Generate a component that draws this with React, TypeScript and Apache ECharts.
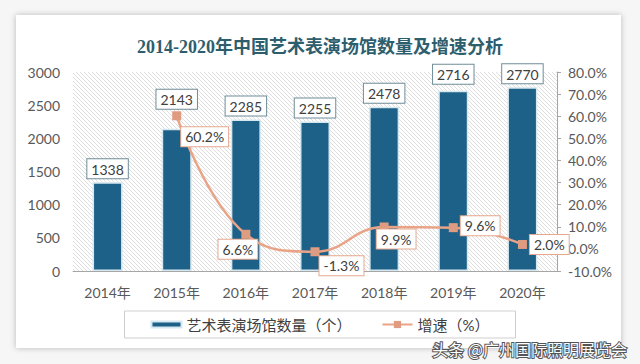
import React, { useEffect, useRef } from "react";
import * as echarts from "echarts";

const categories = ["2014年", "2015年", "2016年", "2017年", "2018年", "2019年", "2020年"];
const venueCounts = [1338, 2143, 2285, 2255, 2478, 2716, 2770];
const growthRates: (number | null)[] = [null, 60.2, 6.6, -1.3, 9.9, 9.6, 2.0];
const leftAxis = { min: 0, max: 3000, interval: 500 };
const rightAxis = { min: -10, max: 80, interval: 10 };
const seriesNames = ["艺术表演场馆数量（个）", "增速（%）"];
const titleText = "2014-2020年中国艺术表演场馆数量及增速分析";
const watermark = "头条 @广州国际照明展览会";

// label placement styles (not data)
const barLabelDistance = [4, 20, 4, 4, 4, 7, 4];
const growthLabelStyle: any[] = [
  null,
  { position: "right", distance: 0, offset: [0, 21] },
  { position: "bottom", distance: 1, offset: [-8, 0] },
  { position: "right", distance: 0, offset: [0, 14] },
  { position: "bottom", distance: -2, offset: [12, 0] },
  { position: "right", distance: 3, offset: [0, -2] },
  { position: "right", distance: 3, offset: [0, 0] },
];

const FONT = 'Lato, "Noto Sans CJK SC", sans-serif';

function makeHatch() {
  const s = 4;
  const c = document.createElement("canvas");
  c.width = s;
  c.height = s;
  const ctx = c.getContext("2d")!;
  ctx.fillStyle = "#ffffff";
  ctx.fillRect(0, 0, s, s);
  ctx.strokeStyle = "#dedede";
  ctx.lineWidth = 1;
  ctx.beginPath();
  ctx.moveTo(-1, -1);
  ctx.lineTo(s + 1, s + 1);
  ctx.moveTo(-1, s - 1);
  ctx.lineTo(1, s + 1);
  ctx.moveTo(s - 1, -1);
  ctx.lineTo(s + 1, 1);
  ctx.stroke();
  return c;
}

export default function App() {
  const ref = useRef<HTMLDivElement>(null);
  useEffect(() => {
    if (!ref.current) return;
    const chart = echarts.init(ref.current, null, { renderer: "svg" });
    const hatch = makeHatch();
    const option: any = {
      animation: false,
      backgroundColor: "transparent",
      title: {
        text: titleText,
        left: "center",
        top: 33,
        textStyle: {
          fontFamily: '"Liberation Serif", "Noto Sans CJK SC", serif',
          fontWeight: "bold",
          fontSize: 18,
          color: "#2d5e6e",
        },
      },
      grid: {
        left: 73,
        right: 83,
        top: 72,
        bottom: 93,
        show: true,
        borderWidth: 0,
        backgroundColor: { image: hatch, repeat: "repeat", imageWidth: 4, imageHeight: 4 },
      },
      legend: {
        left: "center",
        top: 311,
        orient: "horizontal",
        borderColor: "#cfcfcf",
        borderWidth: 1,
        padding: [6, 26, 6, 26],
        itemGap: 30,
        itemWidth: 30,
        itemHeight: 9,
        textStyle: { fontFamily: FONT, fontSize: 15, color: "#404040" },
        data: [
          { name: seriesNames[0], icon: "path://M0,0h30v6h-30z" },
          { name: seriesNames[1] },
        ],
      },
      xAxis: {
        type: "category",
        data: categories,
        axisLine: { onZero: false, lineStyle: { color: "#a6a6a6", width: 1 } },
        axisTick: { show: false },
        axisLabel: { fontFamily: FONT, fontSize: 14, color: "#595959", margin: 14 },
      },
      yAxis: [
        {
          type: "value",
          ...leftAxis,
          axisLine: { show: false },
          axisTick: { show: false },
          splitLine: { show: false },
          axisLabel: {
            fontFamily: FONT,
            fontSize: 14,
            color: "#595959",
            margin: 13,
            formatter: (v: number) => String(v),
          },
        },
        {
          type: "value",
          ...rightAxis,
          position: "right",
          axisLine: { show: true, lineStyle: { color: "#a6a6a6" } },
          axisTick: { show: true, length: 4, lineStyle: { color: "#a6a6a6" } },
          splitLine: { show: false },
          axisLabel: {
            fontFamily: FONT,
            fontSize: 14,
            color: "#595959",
            margin: 11,
            formatter: (v: number) => v.toFixed(1) + "%",
          },
        },
      ],
      series: [
        {
          name: seriesNames[0],
          type: "bar",
          yAxisIndex: 0,
          barWidth: 30,
          itemStyle: { color: "#1d6189", borderColor: "#d5e8f0", borderWidth: 1.5 },
          label: {
            show: true,
            position: "top",
            fontFamily: FONT,
            fontSize: 14,
            color: "#404040",
            backgroundColor: "#ffffff",
            borderColor: "#6f8d99",
            borderWidth: 1,
            padding: [3, 4, 2, 4],
          },
          data: venueCounts.map((v, i) => ({ value: v, label: { distance: barLabelDistance[i] } })),
          z: 2,
        },
        {
          name: seriesNames[1],
          type: "line",
          yAxisIndex: 1,
          smooth: 0.45,
          symbol: "rect",
          symbolSize: 9,
          showAllSymbol: true,
          connectNulls: false,
          lineStyle: { color: "#e9a386", width: 2.5 },
          itemStyle: { color: "#e09c80" },
          label: {
            show: true,
            fontFamily: FONT,
            fontSize: 14,
            color: "#404040",
            backgroundColor: "#ffffff",
            borderColor: "#e6a98f",
            borderWidth: 1,
            padding: [3, 4, 2, 4],
            formatter: (p: any) => Number(p.value).toFixed(1) + "%",
          },
          data: growthRates.map((v, i) =>
            v == null ? "-" : { value: v, label: growthLabelStyle[i] }
          ),
          z: 5,
        },
      ],
      graphic: [
        {
          type: "text",
          right: 12,
          top: 340,
          z: 100,
          style: {
            text: watermark,
            font: '16px "Noto Sans CJK SC", sans-serif',
            fill: "#ffffff",
            stroke: "#555555",
            lineWidth: 2,
          },
        },
      ],
    };
    chart.setOption(option);
    return () => chart.dispose();
  }, []);

  return (
    <div
      style={{
        position: "fixed",
        left: 0,
        top: 0,
        width: 640,
        height: 364,
        background: "#f6f6f6",
        overflow: "hidden",
      }}
    >
      <div
        style={{
          position: "absolute",
          left: 16,
          top: 15,
          width: 605,
          height: 333,
          background: "#ffffff",
          boxShadow: "0 0 6px rgba(0,0,0,0.25)",
        }}
      />
      <div ref={ref} style={{ position: "absolute", left: 0, top: 0, width: 640, height: 364 }} />
    </div>
  );
}
